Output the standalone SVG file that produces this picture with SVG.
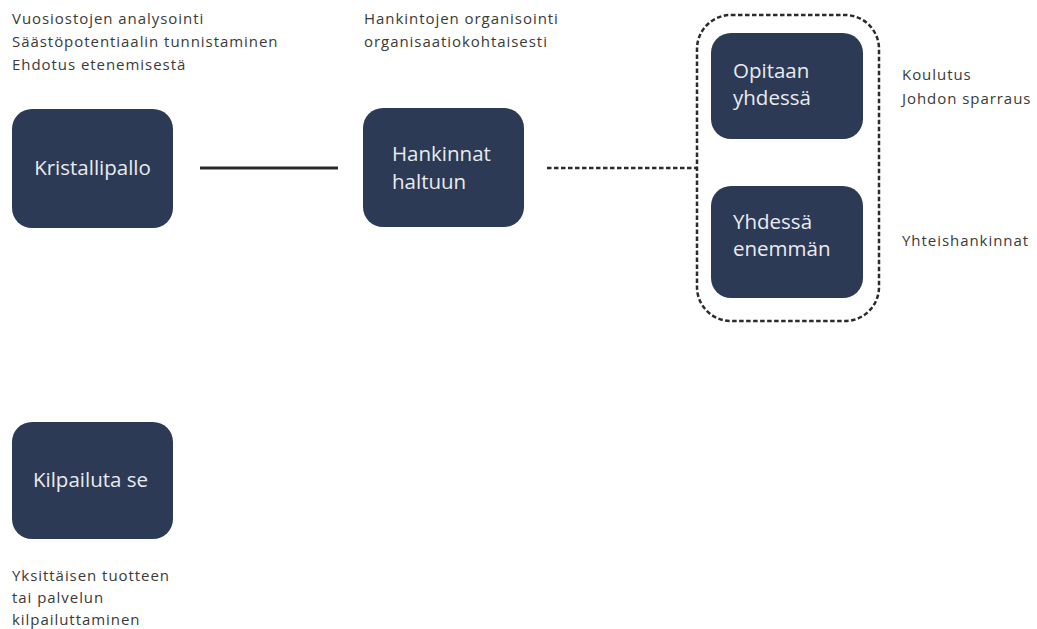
<svg xmlns="http://www.w3.org/2000/svg" width="1037" height="629" viewBox="0 0 1037 629">
  <style>
    .box { fill: #2d3a55; }
    .btxt { font-family: "Open Sans", "Noto Sans", sans-serif; font-size: 20.5px; fill: #e9ebef; }
    .note { font-family: "Open Sans", "Noto Sans", sans-serif; font-size: 15px; letter-spacing: 0.95px; fill: #3a3a3a; }
  </style>
  <rect width="1037" height="629" fill="#ffffff"/>

  <!-- connectors -->
  <g id="connectors" fill="none" stroke="#2b2b2b">
    <line x1="200" y1="168" x2="338" y2="168" stroke-width="3"/>
    <line x1="547" y1="168" x2="697" y2="168" stroke-width="2.5" stroke-dasharray="4.5 2.5"/>
  </g>

  <!-- group frame -->
  <g id="group-frame">
    <rect x="697" y="15" width="182" height="306" rx="34" fill="none" stroke="#2b2b2b" stroke-width="2.5" stroke-dasharray="4.5 2.5"/>
  </g>

  <g id="node-kristallipallo">
    <rect class="box" x="12" y="109" width="161" height="119" rx="20"/>
    <text class="btxt" x="92.5" y="175" text-anchor="middle">Kristallipallo</text>
  </g>

  <g id="node-hankinnat">
    <rect class="box" x="363" y="108" width="161" height="119" rx="20"/>
    <text class="btxt" x="392" y="161">Hankinnat</text>
    <text class="btxt" x="392" y="189">haltuun</text>
  </g>

  <g id="node-opitaan">
    <rect class="box" x="711" y="33" width="152" height="106" rx="20"/>
    <text class="btxt" x="733" y="78">Opitaan</text>
    <text class="btxt" x="733" y="105">yhdessä</text>
  </g>

  <g id="node-yhdessa">
    <rect class="box" x="711" y="186" width="152" height="112" rx="20"/>
    <text class="btxt" x="733" y="229">Yhdessä</text>
    <text class="btxt" x="733" y="256">enemmän</text>
  </g>

  <g id="node-kilpailuta">
    <rect class="box" x="12" y="422" width="161" height="117" rx="20"/>
    <text class="btxt" x="90.5" y="487" text-anchor="middle">Kilpailuta se</text>
  </g>

  <!-- annotations -->
  <g id="notes">
    <text class="note" x="12" y="24">Vuosiostojen analysointi</text>
    <text class="note" x="12" y="47">Säästöpotentiaalin tunnistaminen</text>
    <text class="note" x="12" y="70">Ehdotus etenemisestä</text>
    <text class="note" x="364" y="24">Hankintojen organisointi</text>
    <text class="note" x="364" y="47">organisaatiokohtaisesti</text>
    <text class="note" x="902" y="80">Koulutus</text>
    <text class="note" x="902" y="104">Johdon sparraus</text>
    <text class="note" x="902" y="246">Yhteishankinnat</text>
    <text class="note" x="12" y="581">Yksittäisen tuotteen</text>
    <text class="note" x="12" y="603">tai palvelun</text>
    <text class="note" x="12" y="625">kilpailuttaminen</text>
  </g>
</svg>
